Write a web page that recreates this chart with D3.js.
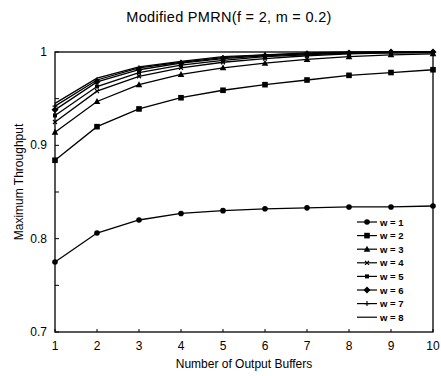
<!DOCTYPE html>
<html>
<head>
<meta charset="utf-8">
<script src="https://cdn.jsdelivr.net/npm/d3@7"></script>
<style>
  html, body { margin: 0; padding: 0; background: #fff; }
  svg { display: block; font-family: "Liberation Sans", Arial, sans-serif; }
</style>
</head>
<body>
<div id="chart"></div>
<script>
const buffers = [1, 2, 3, 4, 5, 6, 7, 8, 9, 10];
const seriesNames = ['w = 1', 'w = 2', 'w = 3', 'w = 4', 'w = 5', 'w = 6', 'w = 7', 'w = 8'];
const markers = ['circle', 'square', 'triangle', 'cross', 'smallsquare', 'diamond', 'plus', 'none'];
const w1 = [0.775, 0.806, 0.820, 0.827, 0.830, 0.832, 0.833, 0.834, 0.834, 0.835];
const w2 = [0.884, 0.920, 0.939, 0.951, 0.959, 0.965, 0.970, 0.975, 0.978, 0.981];
const w3 = [0.914, 0.947, 0.965, 0.976, 0.983, 0.988, 0.992, 0.995, 0.997, 0.998];
const w4 = [0.925, 0.958, 0.974, 0.983, 0.989, 0.993, 0.996, 0.998, 0.999, 0.999];
const w5 = [0.932, 0.963, 0.978, 0.986, 0.991, 0.995, 0.997, 0.999, 0.999, 1.000];
const w6 = [0.938, 0.968, 0.981, 0.988, 0.993, 0.996, 0.998, 0.999, 1.000, 1.000];
const w7 = [0.942, 0.970, 0.983, 0.989, 0.994, 0.997, 0.998, 0.999, 1.000, 1.000];
const w8 = [0.945, 0.972, 0.984, 0.990, 0.995, 0.997, 0.999, 1.000, 1.000, 1.000];
const yTicks = [0.7, 0.8, 0.9, 1];
const yMinor = [0.75, 0.85, 0.95];

const series = [w1, w2, w3, w4, w5, w6, w7, w8];

const W = 441, H = 376;
const margin = { top: 52, right: 8, bottom: 44, left: 55 };

const svg = d3.select('#chart').append('svg')
  .attr('width', W).attr('height', H);

const x = d3.scaleLinear().domain([1, 10]).range([margin.left, W - margin.right]);
const y = d3.scaleLinear().domain([0.7, 1]).range([H - margin.bottom, margin.top]);

// title
svg.append('text')
  .attr('x', 229).attr('y', 22)
  .attr('text-anchor', 'middle')
  .style('font-size', '14.5px')
  .style('letter-spacing', '0.3px')
  .text('Modified PMRN(f = 2, m = 0.2)');

// frame
svg.append('rect')
  .attr('x', x(1)).attr('y', y(1))
  .attr('width', x(10) - x(1)).attr('height', y(0.7) - y(1))
  .attr('fill', 'none').attr('stroke', '#000').attr('stroke-width', 1.3);

// y ticks + labels
svg.selectAll('line.ytick')
  .data(yTicks.concat(yMinor))
  .enter().append('line')
  .attr('x1', x(1)).attr('x2', x(1) + 4)
  .attr('y1', d => y(d)).attr('y2', d => y(d))
  .attr('stroke', '#000');
svg.selectAll('text.ylab')
  .data(yTicks)
  .enter().append('text')
  .attr('x', x(1) - 8).attr('y', d => y(d) + 4)
  .attr('text-anchor', 'end')
  .style('font-size', '12px')
  .text(d => d === 1 ? '1' : d3.format('.1f')(d));

// x ticks + labels
svg.selectAll('line.xtick')
  .data(buffers)
  .enter().append('line')
  .attr('x1', d => x(d)).attr('x2', d => x(d))
  .attr('y1', y(0.7)).attr('y2', y(0.7) - 3)
  .attr('stroke', '#000');
svg.selectAll('text.xlab')
  .data(buffers)
  .enter().append('text')
  .attr('x', d => x(d)).attr('y', y(0.7) + 18)
  .attr('text-anchor', 'middle')
  .style('font-size', '12px')
  .text(d => d);

// axis titles
svg.append('text')
  .attr('x', 244).attr('y', 368)
  .attr('text-anchor', 'middle')
  .style('font-size', '12px')
  .text('Number of Output Buffers');
svg.append('text')
  .attr('transform', `translate(23, 182) rotate(-90)`)
  .attr('text-anchor', 'middle')
  .style('font-size', '12px')
  .text('Maximum Throughput');

function drawMarker(g, type) {
  switch (type) {
    case 'circle':
      g.append('circle').attr('r', 2.8).attr('fill', '#000'); break;
    case 'square':
      g.append('rect').attr('x', -2.8).attr('y', -2.8).attr('width', 5.6).attr('height', 5.6).attr('fill', '#000'); break;
    case 'triangle':
      g.append('path').attr('d', 'M0,-3.5L3.3,2.5L-3.3,2.5Z').attr('fill', '#000'); break;
    case 'cross':
      g.append('path').attr('d', 'M-2,-2L2,2M-2,2L2,-2').attr('stroke', '#000').attr('stroke-width', 1.2); break;
    case 'smallsquare':
      g.append('rect').attr('x', -2).attr('y', -2).attr('width', 4).attr('height', 4).attr('fill', '#000'); break;
    case 'diamond':
      g.append('path').attr('d', 'M0,-3.5L3.5,0L0,3.5L-3.5,0Z').attr('fill', '#000'); break;
    case 'plus':
      g.append('path').attr('d', 'M-2.5,0L2.5,0M0,-2.5L0,2.5').attr('stroke', '#000').attr('stroke-width', 1.1); break;
    default: break;
  }
}

const line = d3.line()
  .x((d, i) => x(buffers[i]))
  .y(d => y(d));

series.forEach((vals, si) => {
  svg.append('path')
    .attr('d', line(vals))
    .attr('fill', 'none')
    .attr('stroke', '#000')
    .attr('stroke-width', 1.3);
  vals.forEach((v, i) => {
    const g = svg.append('g').attr('transform', `translate(${x(buffers[i])},${y(v)})`);
    drawMarker(g, markers[si]);
  });
});

// legend
const legend = svg.append('g');
seriesNames.forEach((name, i) => {
  const ly = 222 + i * 13.6;
  legend.append('line')
    .attr('x1', 357).attr('x2', 377)
    .attr('y1', ly).attr('y2', ly)
    .attr('stroke', '#000').attr('stroke-width', 1.2);
  const g = legend.append('g').attr('transform', `translate(367,${ly})`);
  drawMarker(g, markers[i]);
  legend.append('text')
    .attr('x', 380).attr('y', ly + 3.5)
    .style('font-size', '9.5px')
    .style('font-weight', 'bold')
    .text(name);
});
</script>
</body>
</html>
